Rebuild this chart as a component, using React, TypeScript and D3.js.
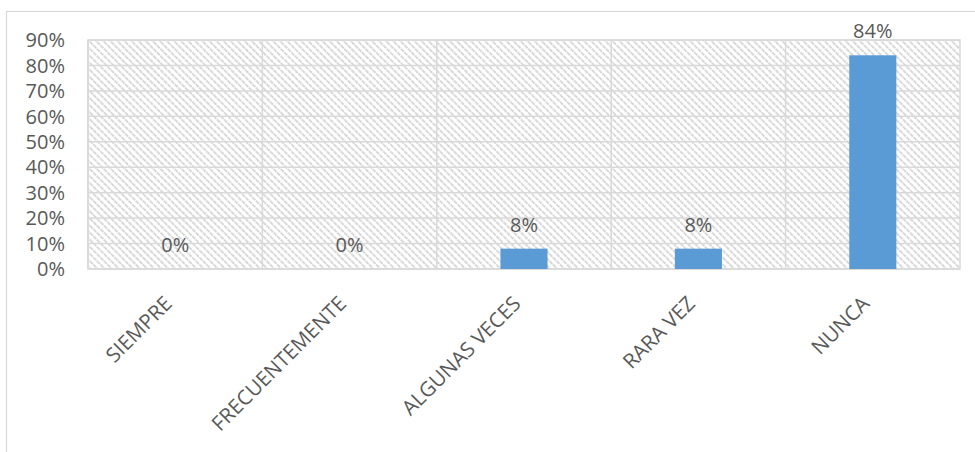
import React from "react";
import * as d3 from "d3";

const categories = ["SIEMPRE", "FRECUENTEMENTE", "ALGUNAS VECES", "RARA VEZ", "NUNCA"];
const values = [0, 0, 8, 8, 84];
const yTicks = [0, 10, 20, 30, 40, 50, 60, 70, 80, 90];

const W = 975;
const H = 452;
const plot = { left: 88, right: 960, top: 40, bottom: 269 };
const FONT = "'Open Sans', sans-serif";
const TEXT = "#595959";
const GRID = "#d9d9d9";

export default function App() {
  const x = d3
    .scaleBand<string>()
    .domain(categories)
    .range([plot.left, plot.right])
    .paddingInner(0)
    .paddingOuter(0);
  const y = d3.scaleLinear().domain([0, 90]).range([plot.bottom, plot.top]);
  const barW = x.bandwidth() * 0.27;

  return (
    <svg
      width={W}
      height={H}
      style={{ position: "absolute", left: 0, top: 0, display: "block", background: "#fff" }}
    >
      <defs>
        <pattern
          id="hatch"
          width="5"
          height="5"
          patternUnits="userSpaceOnUse"
          patternTransform="rotate(45)"
        >
          <rect width="5" height="5" fill="#fff" />
          <line x1="0" y1="1" x2="5" y2="1" stroke="#d6d6d6" strokeWidth="1.8" strokeDasharray="2 0.8" />
        </pattern>
      </defs>
      <rect x={6.5} y={11.5} width={W} height={H} fill="#fff" stroke={GRID} strokeWidth={1.2} />
      <rect
        x={plot.left}
        y={plot.top}
        width={plot.right - plot.left}
        height={plot.bottom - plot.top}
        fill="url(#hatch)"
      />
      {yTicks.map((t) => (
        <line
          key={"g" + t}
          x1={plot.left}
          x2={plot.right}
          y1={y(t)}
          y2={y(t)}
          stroke={GRID}
          strokeWidth={1.5}
        />
      ))}
      {categories.map((c) => (
        <line
          key={"v" + c}
          x1={x(c)!}
          x2={x(c)!}
          y1={plot.top}
          y2={plot.bottom}
          stroke={GRID}
          strokeWidth={1.5}
        />
      ))}
      <rect
        x={plot.left}
        y={plot.top}
        width={plot.right - plot.left}
        height={plot.bottom - plot.top}
        fill="none"
        stroke={GRID}
        strokeWidth={1.5}
      />
      {categories.map((c, i) => {
        const cx = x(c)! + x.bandwidth() / 2;
        return (
          <g key={"b" + c}>
            {values[i] > 0 && (
              <rect
                x={cx - barW / 2}
                y={y(values[i])}
                width={barW}
                height={y(0) - y(values[i])}
                fill="#5b9bd5"
              />
            )}
            <text
              x={cx}
              y={y(values[i]) - 17}
              textAnchor="middle"
              fontFamily={FONT}
              fontSize={20}
              fill={TEXT}
            >
              {values[i] + "%"}
            </text>
            <text
              transform={`translate(${cx - 2},${plot.bottom + 36}) rotate(-45)`}
              textAnchor="end"
              fontFamily={FONT}
              fontSize={20.5}
              fill={TEXT}
            >
              {c}
            </text>
          </g>
        );
      })}
      {yTicks.map((t) => (
        <text
          key={"t" + t}
          x={65}
          y={y(t)}
          dy="0.36em"
          textAnchor="end"
          fontFamily={FONT}
          fontSize={20}
          fill={TEXT}
        >
          {t + "%"}
        </text>
      ))}
    </svg>
  );
}
